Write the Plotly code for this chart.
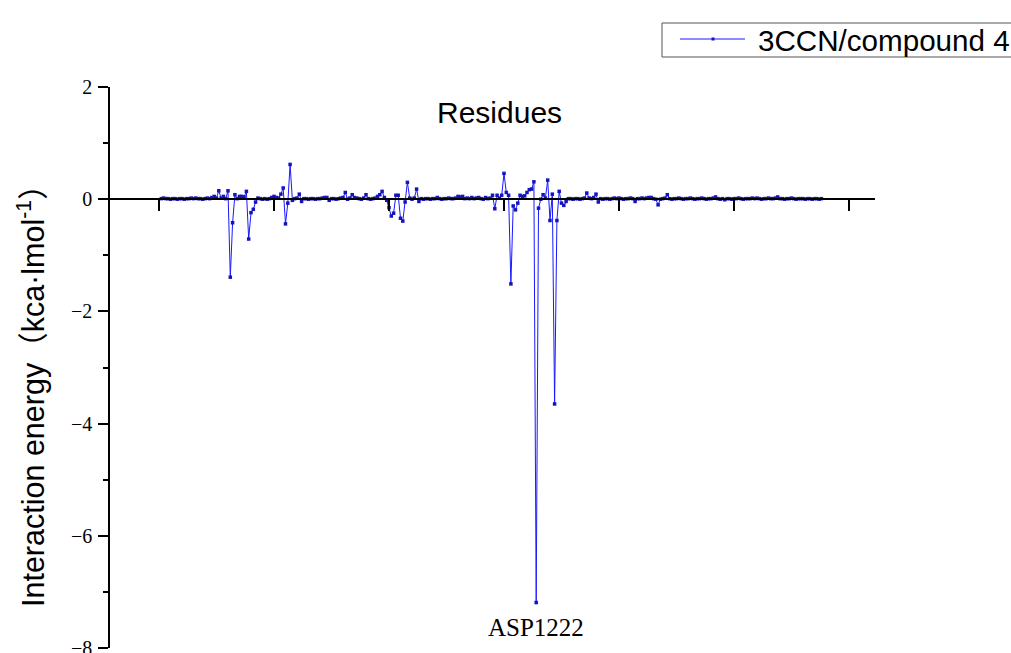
import plotly.graph_objects as go

# ---------------- data ----------------
series_name = "3CCN/compound 4"
residue_index = list(range(1, 289))
interaction_energy = [
    0.01, 0.02, 0.01, 0.01, 0.00, 0.01, 0.01, 0.00, 0.01, 0.01,   # 1-10
    0.00, 0.01, 0.01, 0.02, 0.01, 0.02, 0.01, 0.01, 0.00, 0.01,   # 11-20
    0.02, 0.01, 0.03, 0.05, 0.02, 0.15, 0.02, 0.05, 0.01, 0.15,   # 21-30
    -1.39, -0.42, 0.08, 0.01, 0.05, 0.05, 0.04, 0.14, -0.71, -0.24,  # 31-40
    -0.18, -0.05, 0.02, 0.01, 0.00, 0.01, 0.00, 0.01, 0.03, 0.05,  # 41-50
    0.03, 0.02, 0.09, 0.20, -0.44, -0.07, 0.62, -0.02, 0.01, 0.02,  # 51-60
    0.09, -0.04, 0.01, 0.01, 0.00, 0.01, 0.01, 0.00, 0.01, 0.01,  # 61-70
    0.02, 0.03, 0.03, -0.02, 0.01, 0.01, 0.00, 0.01, 0.02, 0.03,  # 71-80
    0.12, 0.00, 0.02, 0.08, 0.03, 0.02, 0.01, 0.00, 0.02, 0.08,   # 81-90
    0.01, 0.00, 0.01, 0.02, 0.05, 0.08, 0.14, 0.03, -0.02, -0.15,  # 91-100
    -0.30, -0.25, 0.07, 0.07, -0.34, -0.39, -0.05, 0.30, 0.02, 0.00,  # 101-110
    0.02, 0.18, -0.04, 0.01, 0.00, 0.01, 0.01, 0.00, 0.01, 0.01,  # 111-120
    0.03, 0.01, 0.00, 0.01, 0.01, 0.02, 0.01, 0.01, 0.02, 0.05,   # 121-130
    0.04, 0.05, 0.01, 0.02, 0.01, 0.03, 0.01, 0.02, 0.03, 0.01,   # 131-140
    0.00, 0.03, 0.01, 0.02, 0.07, -0.17, 0.07, 0.02, 0.07, 0.46,  # 141-150
    0.12, 0.07, -1.51, -0.12, -0.19, -0.07, 0.07, 0.05, 0.06, 0.12,  # 151-160
    0.17, 0.18, 0.31, -7.19, -0.16, 0.00, 0.08, 0.02, 0.34, -0.38,  # 161-170
    0.09, -3.65, -0.38, 0.14, -0.07, -0.11, -0.04, 0.01, 0.01, 0.00,  # 171-180
    0.01, 0.01, 0.00, 0.01, 0.02, 0.11, 0.02, 0.01, 0.03, 0.09,   # 181-190
    -0.05, 0.01, 0.00, 0.01, 0.01, 0.00, 0.01, 0.02, 0.01, 0.02,  # 191-200
    0.01, 0.00, 0.01, 0.01, 0.02, 0.01, -0.04, 0.01, 0.01, 0.02,  # 201-210
    0.01, 0.02, 0.03, 0.03, 0.01, 0.00, -0.10, 0.00, 0.01, 0.02,  # 211-220
    0.08, 0.01, 0.00, 0.01, 0.01, 0.02, 0.01, 0.00, 0.01, 0.01,   # 221-230
    0.02, 0.01, 0.00, 0.01, 0.01, 0.02, 0.01, 0.00, 0.01, 0.01,   # 231-240
    0.02, 0.04, 0.01, 0.00, 0.01, -0.01, 0.01, 0.01, 0.00, 0.01,  # 241-250
    0.01, 0.02, 0.01, 0.00, 0.01, 0.01, 0.01, 0.02, 0.01, 0.02,   # 251-260
    0.01, 0.00, 0.01, 0.01, 0.02, 0.01, 0.01, 0.02, 0.04, 0.01,   # 261-270
    0.01, 0.00, 0.01, 0.01, 0.02, 0.01, 0.00, 0.01, 0.01, 0.01,   # 271-280
    0.00, 0.01, 0.01, 0.00, 0.01, 0.01, 0.00, 0.01,               # 281-288
]
x_tick_values = [0, 50, 100, 150, 200, 250, 300]
y_tick_values = [-8, -6, -4, -2, 0, 2]
highlight_residue = "ASP1222"
highlight_index = 164

# ---------------- layout helpers ----------------
W, H = 1011, 653
L, R, T, B = 110, 875, 87, 648  # plot area in pixels


def px(p):
    return (p - L) / (R - L)


def py(q):
    return (B - q) / (B - T)


SANS = "Liberation Sans, Arial, sans-serif"
SANS_CJK = "Liberation Sans, Noto Sans CJK SC, sans-serif"
SERIF = "Liberation Serif, Times New Roman, serif"
LINE_BLUE = "rgb(25,25,255)"
MARK_BLUE = "rgb(20,20,190)"

fig = go.Figure()
fig.add_trace(go.Scatter(
    x=residue_index,
    y=interaction_energy,
    mode="lines+markers",
    name=series_name,
    line=dict(color=LINE_BLUE, width=1),
    marker=dict(symbol="square", size=3.5, color=MARK_BLUE),
    showlegend=False,
))

# manual legend (box, line sample, marker, label)
shapes = [
    dict(type="rect", xref="paper", yref="paper",
         x0=px(662), x1=px(1045), y0=py(57), y1=py(23),
         line=dict(color="#555555", width=1), fillcolor="white", layer="above"),
    dict(type="line", xref="paper", yref="paper",
         x0=px(680), x1=px(745), y0=py(39), y1=py(39),
         line=dict(color=LINE_BLUE, width=1), layer="above"),
    dict(type="rect", xref="paper", yref="paper",
         x0=px(711.5), x1=px(714.5), y0=py(40.5), y1=py(37.5),
         line=dict(width=0), fillcolor=MARK_BLUE, layer="above"),
]

annotations = [
    dict(text=series_name, xref="paper", yref="paper", x=px(756), y=py(40),
         xanchor="left", yanchor="middle", showarrow=False,
         font=dict(family=SANS, size=29.6, color="black")),
    dict(text="Residues", xref="paper", yref="paper", x=px(499), y=py(112),
         xanchor="center", yanchor="middle", showarrow=False,
         font=dict(family=SANS, size=30, color="black")),
    dict(text="Interaction energy（kca·lmol<sup>-1</sup>）", xref="paper", yref="paper",
         x=px(31), y=py(388), xanchor="center", yanchor="middle", textangle=-90,
         showarrow=False, font=dict(family=SANS_CJK, size=30.5, color="black")),
    dict(text=highlight_residue, xref="x", yref="y",
         x=highlight_index, y=interaction_energy[highlight_index - 1],
         xanchor="center", yanchor="middle", yshift=-25, showarrow=False,
         font=dict(family=SERIF, size=25, color="black")),
]

fig.update_layout(
    width=W, height=H,
    margin=dict(l=L, r=W - R, t=T, b=H - B, autoexpand=False),
    paper_bgcolor="white", plot_bgcolor="white",
    shapes=shapes, annotations=annotations,
    xaxis=dict(
        range=[(L - 159) / 2.3, (R - 159) / 2.3],
        anchor="free", position=0.8,
        showline=True, linecolor="black", linewidth=2,
        ticks="outside", tickvals=x_tick_values, ticklen=11, tickwidth=2,
        tickcolor="black", showticklabels=False,
        showgrid=False, zeroline=False,
    ),
    yaxis=dict(
        range=[-8, 2],
        showline=True, linecolor="black", linewidth=1.5,
        ticks="outside", tickvals=y_tick_values, ticklen=10, tickwidth=1.5,
        tickcolor="black",
        minor=dict(dtick=1, tick0=0, ticks="outside", ticklen=5, tickwidth=1.5,
                   tickcolor="black", showgrid=False),
        tickfont=dict(family=SERIF, size=20, color="black"),
        ticklabelstandoff=2,
        ticklabeloverflow="allow",
        showgrid=False, zeroline=False,
    ),
)

fig.write_html("out.html")
